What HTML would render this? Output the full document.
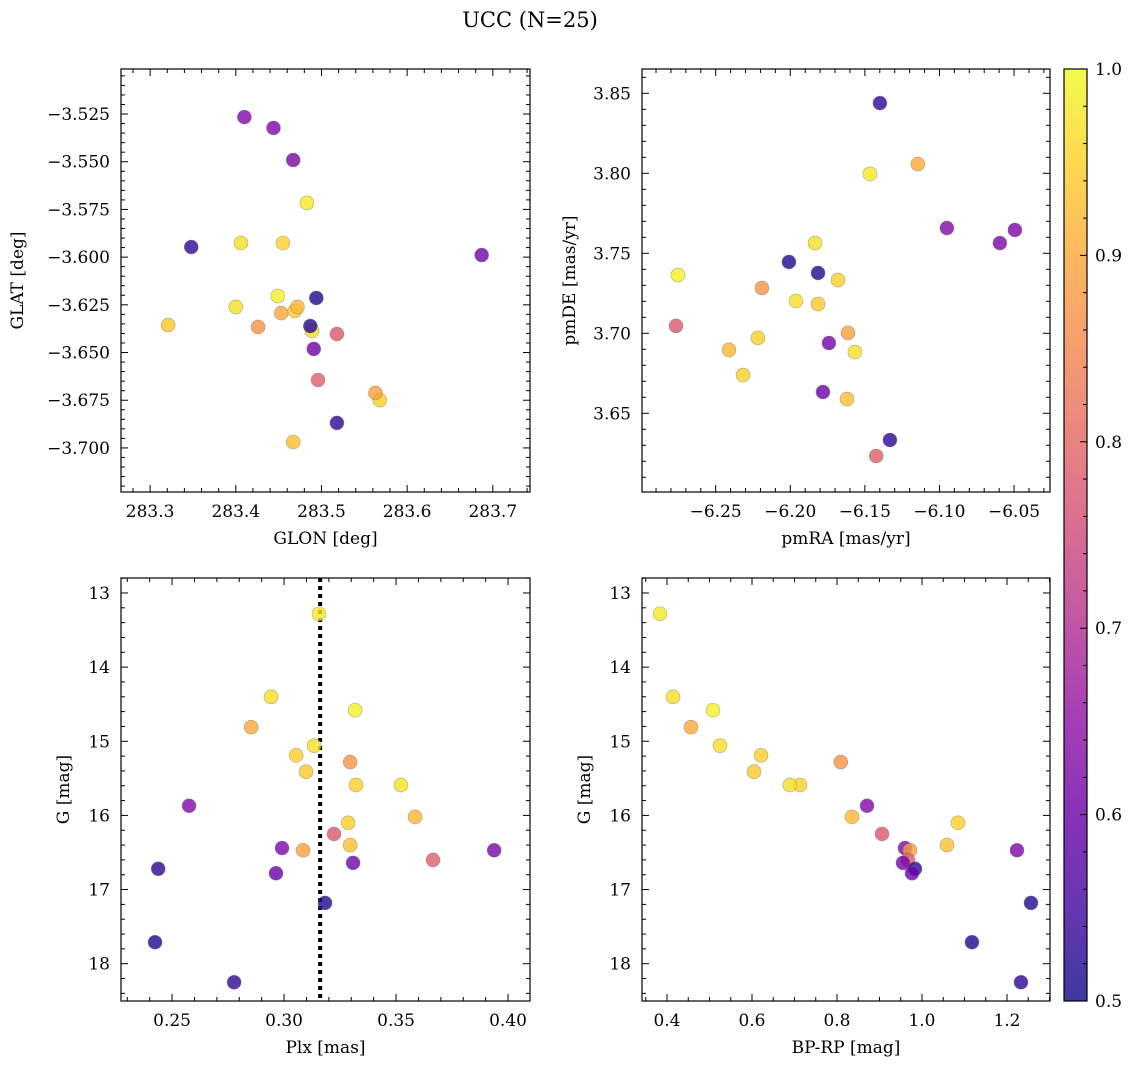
<!DOCTYPE html>
<html><head><meta charset="utf-8"><style>
html,body{margin:0;padding:0;background:#fff}
svg{display:block}
text{font-family:"DejaVu Serif","Liberation Serif",serif;fill:#000}
</style></head><body>
<svg id="fig" width="1136" height="1068" xmlns="http://www.w3.org/2000/svg">
<text x="530" y="27" font-size="21" text-anchor="middle">UCC (N=25)</text>
</svg>
<script>
const glon=[283.483,283.406,283.449,283.453,283.455,283.400,283.426,283.321,283.469,283.489,283.410,283.472,283.568,283.518,283.444,283.563,283.467,283.467,283.496,283.687,283.348,283.491,283.494,283.487,283.518];
const glat=[-3.5716,-3.5926,-3.6204,-3.6293,-3.5926,-3.6261,-3.6366,-3.6356,-3.6282,-3.6387,-3.5266,-3.6261,-3.6749,-3.6403,-3.5323,-3.6712,-3.6969,-3.5491,-3.6644,-3.5989,-3.5947,-3.6481,-3.6214,-3.6361,-3.6869];
const pmra=[-6.1466,-6.1834,-6.2753,-6.1145,-6.1680,-6.1962,-6.2190,-6.1814,-6.2217,-6.1567,-6.0950,-6.2411,-6.2317,-6.2766,-6.0595,-6.1613,-6.1620,-6.0494,-6.1424,-6.1741,-6.1399,-6.1781,-6.2009,-6.1814,-6.1332];
const pmde=[3.7996,3.7564,3.7364,3.8058,3.7333,3.7202,3.7283,3.7183,3.6971,3.6883,3.7658,3.6896,3.6739,3.7046,3.7564,3.7002,3.6589,3.7646,3.6233,3.6939,3.8439,3.6633,3.7446,3.7377,3.6333];
const plx=[0.3156,0.2942,0.3317,0.2853,0.3054,0.3134,0.3295,0.3098,0.3321,0.3522,0.2576,0.3585,0.3286,0.3223,0.2991,0.3085,0.3295,0.3938,0.3665,0.3308,0.2438,0.2964,0.3183,0.2424,0.2777];
const gmag=[13.28,14.40,14.58,14.81,15.19,15.06,15.28,15.41,15.59,15.59,15.87,16.02,16.10,16.25,16.44,16.47,16.40,16.47,16.60,16.64,16.72,16.78,17.18,17.71,18.25];
const bprp=[0.3835,0.4141,0.5082,0.4565,0.6212,0.5247,0.8090,0.6047,0.7130,0.6890,0.8706,0.8353,1.0847,0.9059,0.9600,0.9718,1.0588,1.2235,0.9671,0.9553,0.9835,0.9765,1.2565,1.1176,1.2329];
const prob=[0.98,0.97,0.99,0.90,0.95,0.97,0.87,0.94,0.95,0.97,0.63,0.92,0.95,0.78,0.62,0.89,0.93,0.62,0.79,0.61,0.53,0.60,0.52,0.52,0.53];
const plxMedian=0.3161;

const NS="http://www.w3.org/2000/svg";
const svg=document.getElementById('fig');
function mk(tag,attrs,parent){const e=document.createElementNS(NS,tag);for(const k in attrs)e.setAttribute(k,attrs[k]);(parent||svg).appendChild(e);return e;}
const stops=[[13,8,135],[65,4,157],[106,0,168],[143,13,164],[177,42,144],[204,71,120],[225,100,98],[242,132,75],[252,166,54],[252,206,37],[240,249,33]];
function plasma(v){let t=Math.max(0,Math.min(1,(v-0.5)/0.5))*10;const i=Math.min(9,Math.floor(t)),f=t-i;const a=stops[i],b=stops[i+1];
 return 'rgb('+[0,1,2].map(k=>Math.round(a[k]+(b[k]-a[k])*f)).join(',')+')';}
function fmt(v,d){let s=v.toFixed(d);if(s.startsWith('-'))s='\u2212'+s.slice(1);return s;}

function panel(o){
 const g=mk('g',{});
 
 
 const X=v=>o.x0+(v-o.xmin)/(o.xmax-o.xmin)*(o.x1-o.x0);
 const Y=o.yinv?(v=>o.y0+(v-o.ymin)/(o.ymax-o.ymin)*(o.y1-o.y0)):(v=>o.y1-(v-o.ymin)/(o.ymax-o.ymin)*(o.y1-o.y0));
 const fr=mk('rect',{x:o.x0,y:o.y0,width:o.x1-o.x0,height:o.y1-o.y0,fill:'none',stroke:'#000','stroke-width':1.2},g);
 
 const xs=Math.ceil(o.xmin/o.xminor-1e-9);
 for(let k=xs;k*o.xminor<=o.xmax+1e-9;k++){const v=k*o.xminor;const px=X(v);
  const major=Math.abs(v/o.xmajor-Math.round(v/o.xmajor))<1e-6;const L=major?7:4;
  mk('line',{x1:px,x2:px,y1:o.y1,y2:o.y1-L,stroke:'#000','stroke-width':1},g);
  mk('line',{x1:px,x2:px,y1:o.y0,y2:o.y0+L,stroke:'#000','stroke-width':1},g);
  if(major){const t=mk('text',{x:px,y:o.y1+25,'font-size':17,'text-anchor':'middle'},g);t.textContent=fmt(v,o.xd);
   }}
 const ys=Math.ceil(o.ymin/o.yminor-1e-9);
 for(let k=ys;k*o.yminor<=o.ymax+1e-9;k++){const v=k*o.yminor;const py=Y(v);
  const major=Math.abs(v/o.ymajor-Math.round(v/o.ymajor))<1e-6;const L=major?7:4;
  mk('line',{y1:py,y2:py,x1:o.x0,x2:o.x0+L,stroke:'#000','stroke-width':1},g);
  mk('line',{y1:py,y2:py,x1:o.x1,x2:o.x1-L,stroke:'#000','stroke-width':1},g);
  if(major){const t=mk('text',{x:o.x0-11,y:py+6,'font-size':17,'text-anchor':'end'},g);t.textContent=fmt(v,o.yd);
   }}
 const xl=mk('text',{x:(o.x0+o.x1)/2,y:o.y1+52,'font-size':17,'text-anchor':'middle'},g);xl.textContent=o.xlabel;
 
 const yc=(o.y0+o.y1)/2;
 const yl=mk('text',{x:o.ylx,y:yc,'font-size':17,'text-anchor':'middle',transform:'rotate(-90 '+o.ylx+' '+yc+')'},g);yl.textContent=o.ylabel;
 
 if(o.vline!==undefined){const l=mk('line',{x1:X(o.vline),x2:X(o.vline),y1:o.y0,y2:o.y1,stroke:'#000','stroke-width':4,'stroke-dasharray':'4 4'},g);
  }
 for(let i=0;i<o.xv.length;i++){
  const c=mk('circle',{cx:X(o.xv[i]),cy:Y(o.yv[i]),r:7,fill:plasma(prob[i]),'fill-opacity':0.8,stroke:'#777','stroke-opacity':0.6,'stroke-width':0.6},g);
  
  
 }
}
panel({name:'glon-glat-panel',x0:121,x1:530,y0:69,y1:492,xmin:283.266,xmax:283.7434,ymin:-3.7231,ymax:-3.5014,xmajor:0.1,xminor:0.02,ymajor:0.025,yminor:0.005,xd:1,yd:3,xlabel:'GLON [deg]',ylabel:'GLAT [deg]',ylx:23,xv:glon,yv:glat});
panel({name:'pm-panel',x0:642,x1:1050,y0:69,y1:492,xmin:-6.2994,xmax:-6.0259,ymin:3.6008,ymax:3.8652,xmajor:0.05,xminor:0.01,ymajor:0.05,yminor:0.01,xd:2,yd:2,xlabel:'pmRA [mas/yr]',ylabel:'pmDE [mas/yr]',ylx:575,xv:pmra,yv:pmde});
panel({name:'plx-g-panel',x0:121,x1:530,y0:578,y1:1001,xmin:0.2272,xmax:0.4098,ymin:12.798,ymax:18.503,yinv:true,xmajor:0.05,xminor:0.01,ymajor:1,yminor:0.2,xd:2,yd:0,xlabel:'Plx [mas]',ylabel:'G [mag]',ylx:69,xv:plx,yv:gmag,vline:plxMedian});
panel({name:'cmd-panel',x0:642,x1:1050,y0:578,y1:1001,xmin:0.3412,xmax:1.3012,ymin:12.798,ymax:18.503,yinv:true,xmajor:0.2,xminor:0.05,ymajor:1,yminor:0.2,xd:1,yd:0,xlabel:'BP-RP [mag]',ylabel:'G [mag]',ylx:590,xv:bprp,yv:gmag});

const cb=mk('g',{});


const defs=mk('defs',{},cb);
const lg=mk('linearGradient',{id:'cbg',x1:0,y1:1,x2:0,y2:0},defs);
for(let i=0;i<=20;i++){mk('stop',{offset:(i/20),'stop-color':plasma(0.5+i/40),'stop-opacity':0.8},lg);}
mk('rect',{x:1064,y:69,width:23,height:932,fill:'url(#cbg)'},cb);
mk('rect',{x:1064,y:69,width:23,height:932,fill:'none',stroke:'#000','stroke-width':1.2},cb);
for(let k=25;k<=50;k++){const v=k*0.02;const py=1001-(v-0.5)/0.5*932;const major=k%5===0;const L=major?7:4;
 mk('line',{x1:1087,x2:1087-L,y1:py,y2:py,stroke:'#000','stroke-width':1},cb);
 if(major){const t=mk('text',{x:1095,y:py+6,'font-size':17},cb);t.textContent=v.toFixed(1);
  }}
</script>
</body></html>
